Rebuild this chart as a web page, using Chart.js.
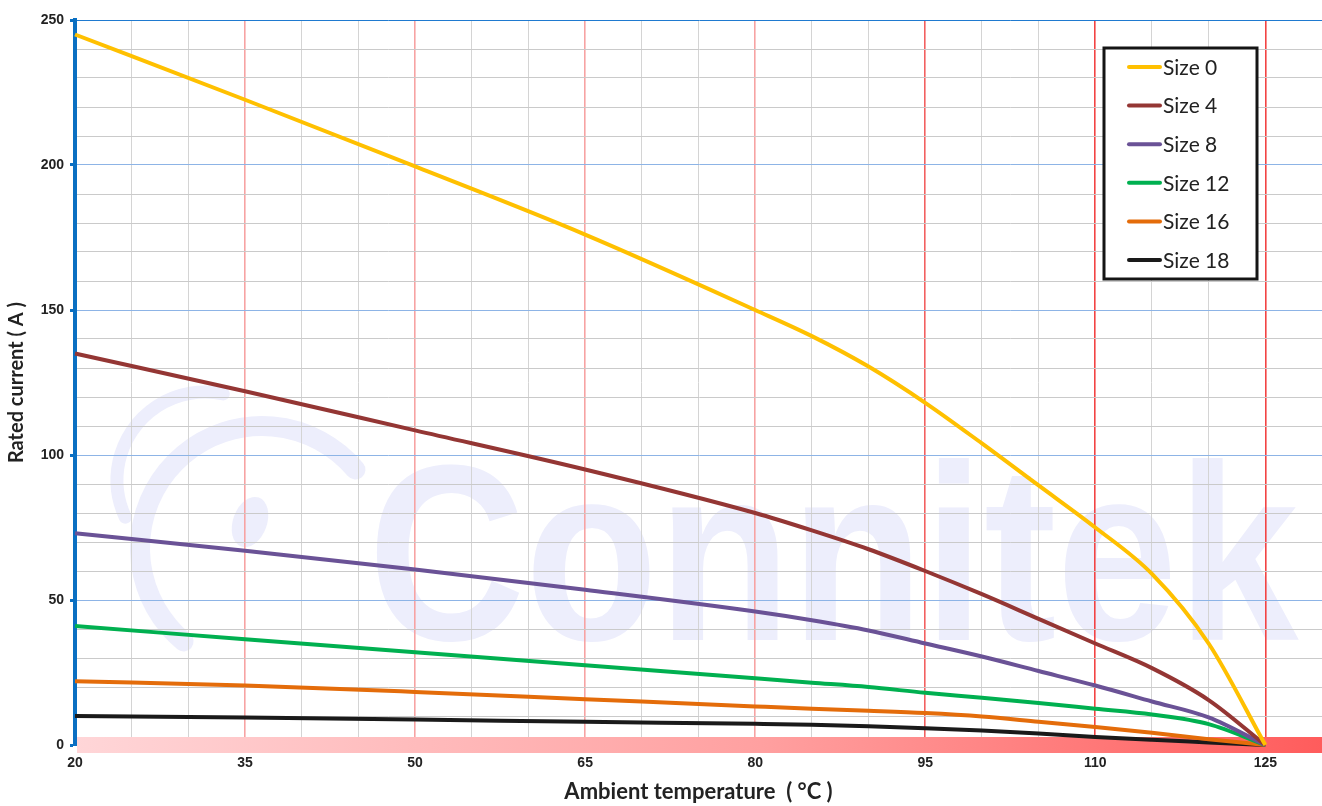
<!DOCTYPE html>
<html>
<head>
<meta charset="utf-8">
<script src="https://cdn.jsdelivr.net/npm/chart.js@4.4.1/dist/chart.umd.min.js"></script>
<style>
  html, body { margin: 0; padding: 0; background: #fff; }
  #wrap { width: 1322px; height: 806px; position: relative; }
</style>
</head>
<body>
<div id="wrap"><canvas id="lineChart"></canvas></div>
<script>
// data
var temps  = [20, 35, 50, 65, 80, 85, 90, 95, 100, 105, 110, 115, 120, 125];
var size0  = [245, 222.5, 199.5, 176, 150, 141, 130.5, 118, 104, 89.5, 75, 59, 35, 0];
var size4  = [135, 122, 108.5, 95, 80, 74, 67.5, 60, 52, 43.5, 35, 26.5, 15.5, 0];
var size8  = [73, 67, 60.5, 53.5, 46, 43, 39.5, 35, 30.5, 25.5, 20.5, 15, 9.5, 0];
var size12 = [41, 36.5, 32, 27.5, 23, 21.5, 20, 18, 16.3, 14.5, 12.5, 10.5, 7.2, 0];
var size16 = [22, 20.5, 18.3, 15.8, 13.3, 12.5, 11.8, 11, 9.8, 8, 6.2, 4.2, 2, 0];
var size18 = [10, 9.5, 8.8, 8, 7.3, 7, 6.5, 5.8, 5, 4, 2.8, 1.8, 0.9, 0];

var labels = ['Size 0', 'Size 4', 'Size 8', 'Size 12', 'Size 16', 'Size 18'];
var colors = ['#FFC000', '#943634', '#6A5296', '#00B050', '#E46C0A', '#1A1A1A'];
var series = [size0, size4, size8, size12, size16, size18];

var xTickLabels = [20, 35, 50, 65, 80, 95, 110, 125];
var yTickLabels = [0, 50, 100, 150, 200, 250];

function toPoints(arr){
    return arr.map(function(v, i){ return {x: temps[i], y: v}; });
}

var datasets = series.map(function(s, i){
    return {
        label: labels[i],
        data: toPoints(s),
        borderColor: colors[i],
        backgroundColor: colors[i],
        borderWidth: 4,
        pointRadius: 0,
        fill: false,
        clip: false,
        cubicInterpolationMode: 'monotone'
    };
});

// white bg + faint watermark, drawn under the grid
var backdrop = {
    id: 'backdrop',
    beforeDraw: function(chart){
        var ctx = chart.ctx;
        ctx.save();
        ctx.fillStyle = '#fff';
        ctx.fillRect(0, 0, chart.width, chart.height);
        var wm = 'rgb(237,238,252)';
        ctx.strokeStyle = wm;
        ctx.fillStyle = wm;
        ctx.lineCap = 'round';
        ctx.lineWidth = 20;
        ctx.beginPath();
        ctx.arc(262, 548, 122, -40 * Math.PI / 180, 130 * Math.PI / 180, true);
        ctx.stroke();
        ctx.lineWidth = 13;
        ctx.beginPath();
        ctx.arc(205, 480, 88, -78 * Math.PI / 180, 155 * Math.PI / 180, true);
        ctx.stroke();
        ctx.beginPath();
        ctx.ellipse(250, 522, 17, 26, 0.35, 0, Math.PI * 2);
        ctx.fill();
        ctx.translate(368, 640);
        ctx.scale(0.87, 1);
        ctx.font = 'bold 250px "Liberation Sans"';
        ctx.textBaseline = 'alphabetic';
        ctx.fillText('Connitek', 0, 0);
        ctx.restore();
    },
    // pink-to-red band along zero
    beforeDatasetsDraw: function(chart){
        var ctx = chart.ctx, a = chart.chartArea;
        var y0 = chart.scales.y.getPixelForValue(0);
        var g = ctx.createLinearGradient(a.left, 0, a.right, 0);
        g.addColorStop(0, 'rgb(255,214,216)');
        g.addColorStop(0.55, 'rgb(255,160,160)');
        g.addColorStop(0.95, 'rgb(255,100,100)');
        g.addColorStop(1, 'rgb(255,92,92)');
        ctx.save();
        ctx.fillStyle = g;
        ctx.fillRect(a.left + 2, y0 - 8, a.right - a.left - 2, 16);
        ctx.restore();
    },
    // boxed legend in the top right
    afterDraw: function(chart){
        var ctx = chart.ctx;
        var bx = 1104, by = 48, bw = 153, bh = 231;
        ctx.save();
        ctx.fillStyle = '#fff';
        ctx.fillRect(bx, by, bw, bh);
        ctx.lineWidth = 3;
        ctx.strokeStyle = '#151515';
        ctx.strokeRect(bx, by, bw, bh);
        ctx.font = '21px Lato';
        ctx.textBaseline = 'middle';
        chart.data.datasets.forEach(function(ds, i){
            var yy = by + 19 + i * 38.6;
            ctx.strokeStyle = ds.borderColor;
            ctx.lineWidth = 4;
            ctx.lineCap = 'round';
            ctx.beginPath();
            ctx.moveTo(bx + 25, yy);
            ctx.lineTo(bx + 56, yy);
            ctx.stroke();
            ctx.fillStyle = '#222';
            ctx.fillText(ds.label, bx + 59, yy + 1);
        });
        ctx.restore();
    }
};

function isMajorX(c){
    return c.tick && xTickLabels.indexOf(Math.round(c.tick.value)) >= 0;
}

function xGridColor(c){
    if (!c.tick) return '#d4d4d4';
    var v = Math.round(c.tick.value);
    if (v === 20) return 'rgba(0,0,0,0)';
    if (v === 95 && isMajorX(c)) return '#F26060';
    if (v > 95 && isMajorX(c)) return '#F24444';
    if (isMajorX(c)) return '#F7A3A3';
    return '#d4d4d4';
}

function xGridWidth(c){
    return isMajorX(c) ? 1.6 : 1;
}

function yGridColor(c){
    if (!c.tick) return '#cacaca';
    var v = Math.round(c.tick.value);
    if (v === 250) return '#1f7ad0';
    if (v === 0) return 'rgba(0,0,0,0)';
    if (yTickLabels.indexOf(v) >= 0) return '#8db4e6';
    return '#cacaca';
}

var ctx = document.getElementById('lineChart');
var lineChart = new Chart(ctx, {
    type: 'line',
    data: { datasets: datasets },
    options: {
        responsive: true,
        maintainAspectRatio: false,
        animation: false,
        layout: { padding: { top: 20, right: 0, bottom: 0, left: 0 } },
        plugins: {
            legend: { display: false },
            tooltip: { enabled: false }
        },
        scales: {
            x: {
                type: 'linear',
                min: 20,
                max: 130,
                border: { display: false },
                grid: { color: xGridColor, lineWidth: xGridWidth, drawTicks: false },
                ticks: {
                    stepSize: 5,
                    padding: 10,
                    autoSkip: false,
                    maxRotation: 0,
                    color: '#222',
                    font: { family: '"Liberation Sans"', size: 14, weight: 'bold' },
                    callback: function(v){ return xTickLabels.indexOf(Math.round(v)) >= 0 ? String(Math.round(v)) : ''; }
                },
                title: {
                    display: true,
                    text: 'Ambient temperature  ( °C )',
                    color: '#222',
                    font: { family: 'Lato', size: 22, weight: 'bold' },
                    padding: { top: 0, bottom: 1 }
                },
                afterFit: function(s){
                    s.height = 61;
                    s.paddingLeft = 0;
                    s.paddingRight = 0;
                }
            },
            y: {
                min: 0,
                max: 250,
                border: { display: true, color: '#0a6fc2', width: 4 },
                grid: {
                    color: yGridColor,
                    lineWidth: 1,
                    tickLength: 5,
                    tickColor: function(c){
                        return yTickLabels.indexOf(Math.round(c.tick.value)) >= 0 ? '#0a6fc2' : 'rgba(0,0,0,0)';
                    },
                    tickWidth: 3
                },
                ticks: {
                    stepSize: 10,
                    padding: 6,
                    autoSkip: false,
                    color: '#222',
                    font: { family: '"Liberation Sans"', size: 14, weight: 'bold' },
                    callback: function(v){ return yTickLabels.indexOf(Math.round(v)) >= 0 ? String(Math.round(v)) : ''; }
                },
                title: {
                    display: true,
                    text: 'Rated current ( A )',
                    color: '#222',
                    font: { family: 'Lato', size: 20, weight: 'bold' },
                    padding: { top: 5, bottom: 0 }
                },
                afterFit: function(s){ s.width = 75; }
            }
        }
    },
    plugins: [backdrop]
});
</script>
</body>
</html>
